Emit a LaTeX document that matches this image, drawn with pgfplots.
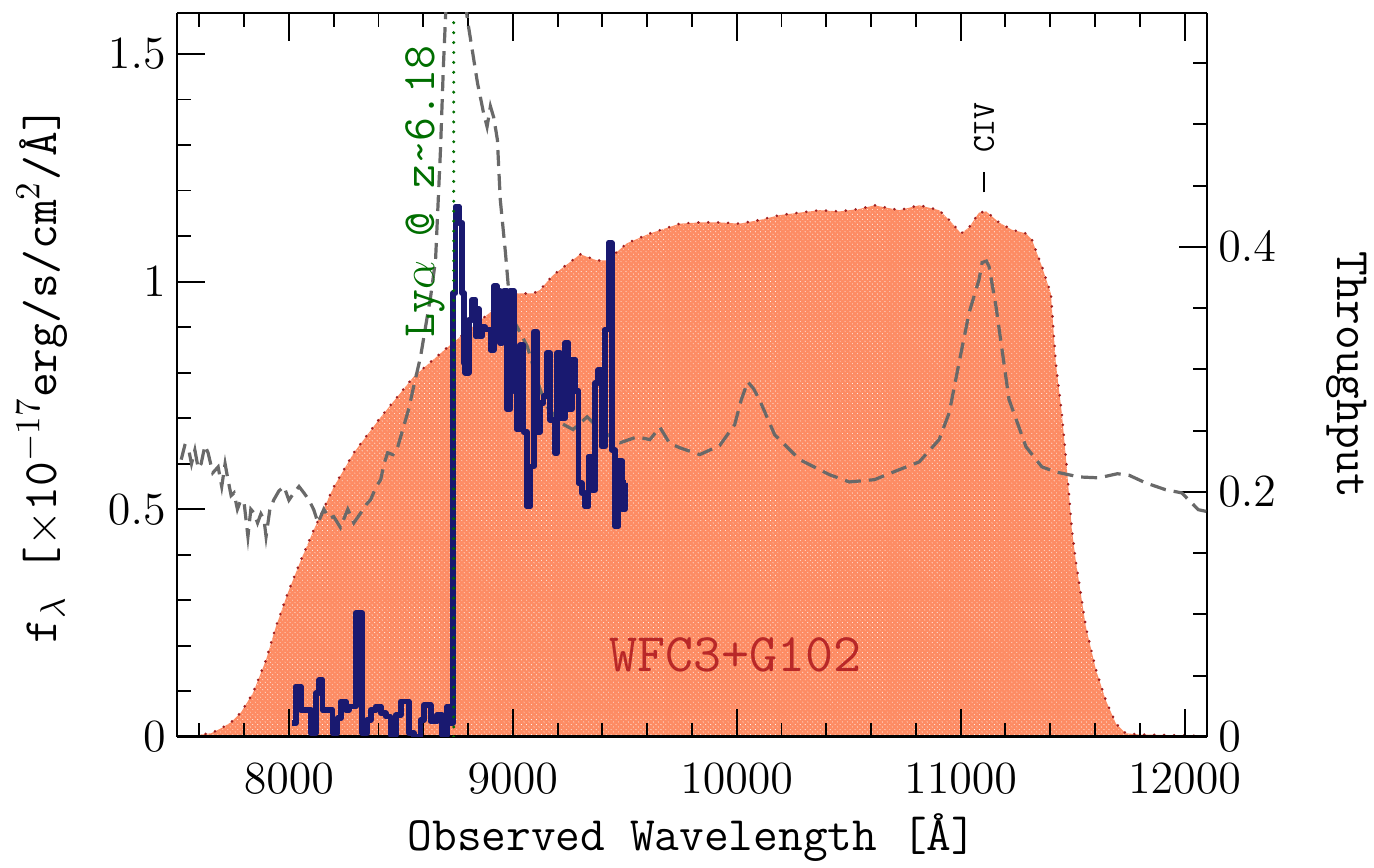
\documentclass[border=0pt]{standalone}
\usepackage{fontspec}
\usepackage{pgfplots}
\pgfplotsset{compat=1.18}
\usetikzlibrary{patterns.meta}

\definecolor{hatch}{RGB}{253,140,100}
\definecolor{tbound}{RGB}{160,30,30}
\definecolor{wfcred}{RGB}{185,40,40}
\definecolor{specblue}{RGB}{25,25,112}
\definecolor{tmplgray}{RGB}{105,105,105}
\definecolor{lyagreen}{RGB}{0,110,0}

\newcommand{\ttf}{\fontsize{15}{18}\selectfont\ttfamily}

\pgfplotstableread{
x T
7586 0
7608 0.002
7653 0.003
7697 0.007
7742 0.012
7786 0.020
7840 0.036
7898 0.063
7942 0.090
7996 0.118
8053 0.144
8111 0.169
8200 0.204
8290 0.232
8410 0.261
8557 0.294
8708 0.318
8855 0.340
9002 0.362
9091 0.362
9122 0.365
9180 0.377
9301 0.394
9376 0.389
9421 0.389
9510 0.403
9612 0.411
9746 0.419
9835 0.420
9924 0.420
10013 0.419
10102 0.422
10192 0.426
10281 0.428
10370 0.430
10459 0.429
10548 0.431
10615 0.434
10726 0.430
10815 0.434
10904 0.430
10949 0.422
11002 0.411
11038 0.416
11082 0.428
11114 0.429
11171 0.420
11229 0.414
11292 0.411
11318 0.406
11363 0.384
11403 0.362
11425 0.305
11452 0.264
11474 0.220
11497 0.169
11514 0.144
11559 0.090
11604 0.055
11648 0.030
11693 0.011
11737 0.003
11795 0.002
12062 0.001
12100 0.000
}\thru

\pgfplotstableread{
x f
7519 0.609
7535 0.640
7550 0.637
7565 0.600
7580 0.630
7595 0.590
7608 0.600
7625 0.640
7639 0.624
7660 0.580
7684 0.593
7700 0.550
7715 0.600
7728 0.565
7742 0.530
7755 0.536
7770 0.500
7785 0.520
7800 0.514
7817 0.440
7830 0.500
7844 0.492
7860 0.470
7875 0.490
7889 0.477
7898 0.440
7915 0.500
7933 0.521
7955 0.540
7978 0.550
8000 0.520
8022 0.536
8045 0.550
8067 0.536
8090 0.520
8111 0.499
8130 0.470
8156 0.500
8180 0.480
8200 0.484
8230 0.460
8263 0.500
8290 0.470
8321 0.492
8345 0.510
8365 0.521
8390 0.550
8410 0.565
8425 0.600
8441 0.624
8465 0.620
8486 0.637
8512 0.681
8535 0.720
8557 0.769
8588 0.835
8610 0.900
8633 0.967
8655 1.048
8677 1.290
8690 1.473
8710 1.700
8760 1.750
8797 1.576
8842 1.437
8869 1.371
8885 1.340
8900 1.385
8915 1.360
8931 1.312
8944 1.180
8967 1.064
8980 0.989
9002 0.916
9033 0.888
9065 0.857
9122 0.763
9154 0.725
9212 0.690
9269 0.675
9332 0.703
9390 0.675
9479 0.646
9555 0.659
9612 0.653
9657 0.680
9700 0.645
9746 0.635
9835 0.620
9924 0.640
9991 0.686
10020 0.740
10049 0.780
10075 0.765
10102 0.740
10169 0.664
10281 0.609
10414 0.576
10503 0.560
10615 0.565
10726 0.587
10815 0.604
10904 0.653
10949 0.712
10993 0.822
11038 0.932
11082 1.004
11096 1.042
11115 1.045
11127 1.033
11158 0.945
11216 0.741
11292 0.637
11363 0.593
11425 0.582
11528 0.571
11617 0.569
11700 0.578
11751 0.575
11826 0.558
11915 0.543
11987 0.536
12062 0.499
12100 0.495
}\tmpl

\pgfplotstableread{
x f
8016 0.030
8031 0.111
8053 0.059
8068 0.059
8098 0.008
8120 0.096
8135 0.125
8150 0.059
8165 0.059
8195 0.008
8217 0.041
8232 0.078
8254 0.059
8269 0.067
8298 0.272
8328 0.008
8350 0.037
8365 0.059
8388 0.067
8410 0.052
8432 0.045
8454 0.005
8477 0.048
8499 0.078
8536 0.008
8558 0.000
8588 0.037
8603 0.070
8633 0.034
8662 0.048
8685 0.005
8707 0.067
8722 0.030
8733 0.975
8744 1.165
8759 1.129
8774 0.975
8781 0.821
8788 0.800
8803 0.916
8818 0.960
8833 0.880
8840 0.940
8848 0.880
8863 0.900
8877 0.895
8900 0.850
8915 0.990
8929 0.980
8944 0.865
8952 0.960
8959 0.980
8974 0.720
8989 0.980
9004 0.760
9019 0.675
9033 0.860
9048 0.670
9063 0.506
9078 0.594
9093 0.890
9108 0.670
9122 0.733
9137 0.748
9152 0.843
9167 0.696
9189 0.623
9197 0.843
9212 0.700
9234 0.865
9249 0.720
9264 0.829
9278 0.760
9293 0.557
9308 0.535
9323 0.506
9338 0.616
9353 0.543
9367 0.777
9382 0.806
9397 0.638
9412 0.895
9427 1.085
9442 0.630
9457 0.462
9471 0.607
9486 0.500
9501 0.557
9505 0.557
}\spec

\pgfplotsset{
  common/.style={
    scale only axis, width=321.9pt, height=226.25pt,
    xmin=7500, xmax=12100,
    tick align=inside,
    major tick length=8.75pt, minor tick length=4.4pt,
    every tick/.style={black, line width=0.6pt},
    axis line style={line width=0.9pt},
    ticklabel style={font=\fontsize{15.5}{18}\selectfont},
    xticklabel style={yshift=-5pt},
    /pgf/number format/1000 sep={},
    scaled ticks=false,
  }
}

\begin{document}
\begin{tikzpicture}
% throughput axis (right)
\begin{axis}[common,
  hide x axis,
  axis y line*=right,
  ymin=0, ymax=0.591,
  ytick={0,0.2,0.4},
  minor ytick={0.05,0.1,0.15,0.25,0.3,0.35,0.45,0.5,0.55},
  ylabel={Throughput},
  ylabel style={font=\ttf, rotate=180, at={(axis description cs:1.136,0.5)}, anchor=center},
]
\addplot[draw=none, fill=hatch] table[x=x,y=T] {\thru} \closedcycle;
\addplot[draw=tbound, line width=0.9pt, line cap=round, dash pattern=on 0pt off 3.1pt,
  pattern={Lines[angle=45,distance=1.1pt,line width=0.42pt]}, pattern color=white]
  table[x=x,y=T] {\thru} \closedcycle;
\end{axis}
% flux axis (left)
\begin{axis}[common,
  axis y line*=left,
  ymin=0, ymax=1.59,
  xtick={8000,9000,10000,11000,12000},
  minor xtick={7600,7800,8200,8400,8600,8800,9200,9400,9600,9800,10200,10400,10600,10800,11200,11400,11600,11800},
  ytick={0,0.5,1,1.5},
  minor ytick={0.1,0.2,0.3,0.4,0.6,0.7,0.8,0.9,1.1,1.2,1.3,1.4},
  xlabel={Observed Wavelength [\AA]},
  xlabel style={font=\ttf, at={(axis description cs:0.5,-0.1395)}, anchor=center},
  ylabel={f$_\lambda$ [$\times$10$^{-17}$erg/s/cm$^2$/\AA]},
  ylabel style={font=\ttf, at={(axis description cs:-0.131,0.5)}, anchor=center},
]
\addplot[tmplgray, line width=1pt, dash pattern=on 5pt off 2.5pt] table[x=x,y=f] {\tmpl};
\addplot[const plot, specblue, line width=1.8pt, line join=round] table[x=x,y=f] {\spec};
\addplot[lyagreen, line width=1.05pt, line cap=round, dash pattern=on 0pt off 3.1pt] coordinates {(8736,0) (8736,1.59)};
\addplot[black, line width=0.6pt] coordinates {(11105,1.196) (11105,1.24)};
\node[rotate=90, font=\fontsize{10}{12}\selectfont\ttfamily] at (axis cs:11105,1.338) {CIV};
\node[rotate=90, text=lyagreen, font=\fontsize{14.5}{17}\selectfont\ttfamily] at (axis cs:8610,1.198) {Ly$\alpha$ @ z\textasciitilde6.18};
\node[text=wfcred, font=\fontsize{17}{20}\selectfont\ttfamily] at (axis cs:9996,0.18) {WFC3+G102};
\end{axis}
\pgfresetboundingbox
\path[use as bounding box] (-55.3pt,-40.9pt) rectangle (374.1pt,230.3pt);
\end{tikzpicture}
\end{document}
